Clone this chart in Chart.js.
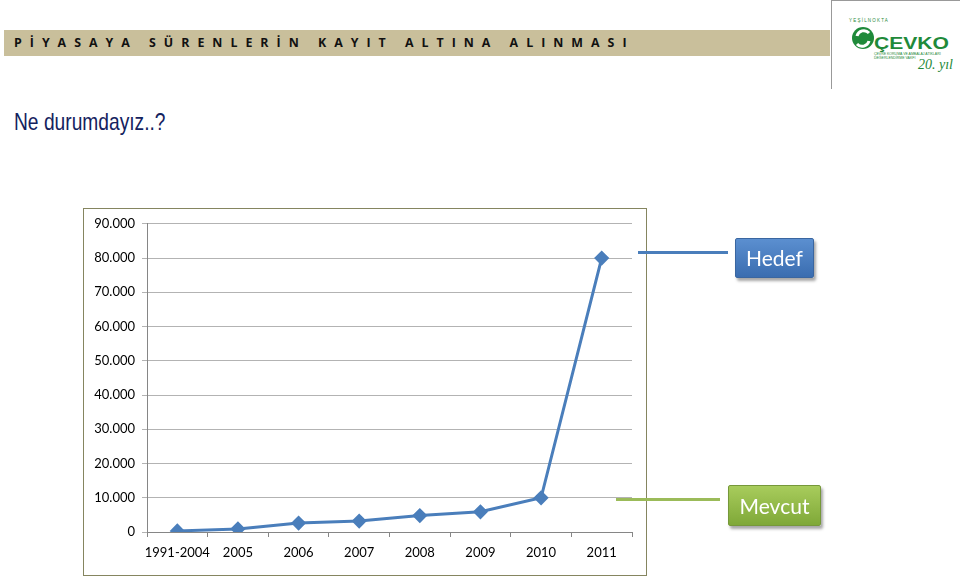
<!DOCTYPE html>
<html><head><meta charset="utf-8">
<script src="https://cdn.jsdelivr.net/npm/chart.js@4/dist/chart.umd.min.js"></script>
<style>
html,body{margin:0;padding:0;background:#fff;width:960px;height:579px;overflow:hidden;position:relative;font-family:"Liberation Sans",Arial,sans-serif}
#band{position:absolute;left:4px;top:30px;width:826px;height:26px;background:#c9bf9b}
#bandtxt{position:absolute;left:14px;top:34px;font:bold 12.4px "Open Sans",sans-serif;letter-spacing:8.0px;color:#111;white-space:pre}
#logo{position:absolute;left:831px;top:0;width:128px;height:88px;border-left:1px solid #999;border-top:1px solid #999;background:#fff}
#title{position:absolute;left:14px;top:108px;font:24px "Liberation Sans Narrow","Liberation Sans",sans-serif;color:#14225e;transform:scaleX(0.80);transform-origin:left}
#box{position:absolute;left:83px;top:208px;width:562px;height:366px;border:1px solid #858560}
#wrap{position:absolute;left:0;top:0;width:562px;height:366px}
.ln{position:absolute;height:3px}
.btn{position:absolute;color:#fff;font:21px Lato,"Open Sans",sans-serif;text-align:center;border-radius:2px;box-shadow:2px 3px 3px rgba(0,0,0,0.35)}
</style></head><body>
<div id="band"></div>
<div id="bandtxt">PİYASAYA SÜRENLERİN KAYIT ALTINA ALINMASI</div>
<div id="logo">
<svg width="128" height="88" viewBox="0 0 128 88">
<circle cx="31" cy="37" r="11" fill="#1f8a3a"/>
<path d="M25 35 a7 7 0 0 1 12 -3" stroke="#fff" stroke-width="3" fill="none"/>
<path d="M37 40 a7 7 0 0 1 -12 3" stroke="#fff" stroke-width="3" fill="none"/>
<text x="17" y="21" font-size="4.5" fill="#1f8a3a" font-family="Liberation Sans">Y E Ş İ L   N O K T A</text>
<text x="42" y="48" font-size="17" font-weight="bold" fill="#1f8a3a" font-family="Liberation Sans" textLength="75" lengthAdjust="spacingAndGlyphs">ÇEVKO</text>
<text x="42" y="54" font-size="3.5" fill="#1f8a3a" font-family="Liberation Sans">ÇEVRE KORUMA VE AMBALAJ ATIKLARI</text>
<text x="42" y="58" font-size="3.5" fill="#1f8a3a" font-family="Liberation Sans">DEĞERLENDİRME VAKFI</text>
<text x="86" y="68" font-size="14" font-style="italic" fill="#1f8a3a" font-family="Liberation Serif">20. yıl</text>
</svg>
</div>
<div id="title">Ne durumdayız..?</div>
<div id="box"><div id="wrap"><canvas id="c"></canvas></div></div>
<div class="ln" style="left:638px;top:251px;width:90px;background:#4a7ebb"></div>
<div class="ln" style="left:616px;top:498px;width:104px;background:#9bbb59"></div>
<div class="btn" style="left:735px;top:238px;width:77px;height:38px;line-height:38px;background:linear-gradient(#5b8fd0,#3a6db0);border:1px solid #3a66a0">Hedef</div>
<div class="btn" style="left:728px;top:485px;width:91px;height:39px;line-height:39px;background:linear-gradient(#a8cc5c,#7fa838);border:1px solid #76983a">Mevcut</div>
<script>
const categories = ["1991-2004","2005","2006","2007","2008","2009","2010","2011"];
const values = [300, 900, 2600, 3200, 4800, 5900, 10000, 80000];
const yTicks = [0,10000,20000,30000,40000,50000,60000,70000,80000,90000];

function fmt(v){ return v===0 ? "0" : v.toString().replace(/\B(?=(\d{3})+(?!\d))/g,"."); }

new Chart(document.getElementById('c'), {
  type:'line',
  data:{labels:categories, datasets:[{data:values,borderColor:'#4a7ebb',backgroundColor:'#4a7ebb',borderWidth:3,pointStyle:'rectRot',pointRadius:5.5,pointBackgroundColor:'#4a7ebb',pointBorderColor:'#4a7ebb',tension:0}]},
  options:{
    responsive:true, maintainAspectRatio:false, animation:false,
    layout:{padding:{top:13,right:14,bottom:10,left:0}},
    plugins:{legend:{display:false},tooltip:{enabled:false}},
    scales:{
      x:{offset:true,
         grid:{display:true,drawOnChartArea:false,drawTicks:true,tickLength:5,color:'#868686',offset:true},
         border:{display:true,color:'#868686'},
         ticks:{color:'#000',font:{family:'Lato',size:13},padding:8,maxRotation:0,autoSkip:false},
         afterFit:s=>{s.height=33;}},
      y:{min:0,max:90000,
         afterBuildTicks:s=>{s.ticks=yTicks.map(v=>({value:v}));},
         grid:{color:'#b3b3b3',tickLength:5,drawTicks:true},
         border:{display:true,color:'#868686'},
         ticks:{color:'#000',font:{family:'Lato',size:13},padding:7,callback:v=>fmt(v)},
         afterFit:s=>{s.width=63;}}
    }
  }
});
</script>
</body></html>
